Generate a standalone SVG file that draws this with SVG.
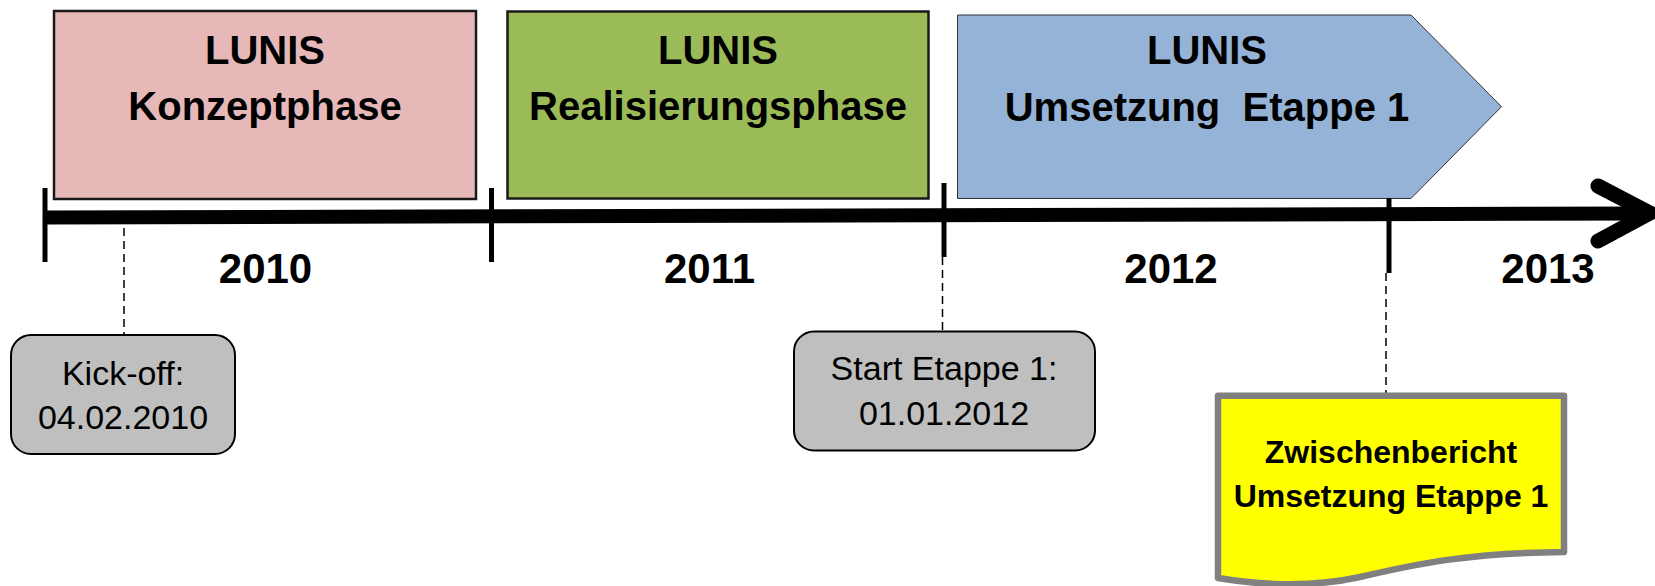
<svg xmlns="http://www.w3.org/2000/svg" width="1655" height="586" viewBox="0 0 1655 586">
<style>
.t{font-family:"Liberation Sans",Arial,sans-serif;text-anchor:middle;fill:#000}
.title{font-size:40px;font-weight:bold}
.year{font-size:42px;font-weight:bold}
.ms{font-size:34px}
.rep{font-size:32px;font-weight:bold}
.tick{stroke:#000;stroke-width:5}
.dash{stroke:#000;stroke-width:1.5;stroke-dasharray:8,5;fill:none}
</style>
<rect width="1655" height="586" fill="#fff"/>
<g id="phase-konzept">
<rect x="54" y="11" width="422" height="188" fill="#E6B9B8" stroke="#1a1a1a" stroke-width="2.5"/>
<text class="t title" x="265" y="64">LUNIS</text>
<text class="t title" x="265" y="120">Konzeptphase</text>
</g>
<g id="phase-realisierung">
<rect x="507.5" y="11.5" width="421" height="187" fill="#9BBB59" stroke="#1a1a1a" stroke-width="2.5"/>
<text class="t title" x="718" y="64">LUNIS</text>
<text class="t title" x="718" y="120">Realisierungsphase</text>
</g>
<g id="phase-umsetzung">
<path d="M957.5,15 H1411 L1501.5,106.7 L1411,198.5 H957.5 Z" fill="#95B3D7" stroke="#333" stroke-width="1"/>
<text class="t title" x="1207" y="64">LUNIS</text>
<text class="t title" x="1207" y="121" xml:space="preserve">Umsetzung  Etappe 1</text>
</g>
<g id="axis">
<line x1="45" y1="217.5" x2="1644" y2="213.5" stroke="#000" stroke-width="14"/>
<polyline points="1598,186 1650,213 1598,241" fill="none" stroke="#000" stroke-width="15" stroke-linecap="round" stroke-linejoin="miter"/>
<line class="tick" x1="45" y1="188" x2="45" y2="262"/>
<line class="tick" x1="491.5" y1="188" x2="491.5" y2="262"/>
<line class="tick" x1="944" y1="183" x2="944" y2="257"/>
<line class="tick" x1="1389" y1="198" x2="1389" y2="273"/>
<text class="t year" x="265.5" y="283">2010</text>
<text class="t year" x="709.5" y="283">2011</text>
<text class="t year" x="1171" y="283">2012</text>
<text class="t year" x="1548" y="283">2013</text>
</g>
<g id="connectors">
<line class="dash" x1="124" y1="228" x2="124" y2="335"/>
<line class="dash" x1="942.5" y1="257" x2="942.5" y2="331"/>
<line class="dash" x1="1386" y1="273" x2="1386" y2="393"/>
</g>
<g id="kickoff">
<rect x="11" y="335" width="224" height="119" rx="20" fill="#BFBFBF" stroke="#000" stroke-width="2"/>
<text class="t ms" x="123" y="385">Kick-off:</text>
<text class="t ms" x="123" y="429">04.02.2010</text>
</g>
<g id="start-etappe1">
<rect x="794" y="331.5" width="301" height="119" rx="20" fill="#BFBFBF" stroke="#000" stroke-width="2"/>
<text class="t ms" x="944" y="380">Start Etappe 1:</text>
<text class="t ms" x="944" y="425">01.01.2012</text>
</g>
<g id="zwischenbericht">
<path d="M1218,395.7 H1564 V552 C1470,553 1420,563 1360,577 C1310,588 1260,585 1218,578 Z" fill="#FFFF00" stroke="#808080" stroke-width="6.5" stroke-linejoin="round"/>
<text class="t rep" x="1391" y="463">Zwischenbericht</text>
<text class="t rep" x="1391" y="507">Umsetzung Etappe 1</text>
</g>
</svg>
